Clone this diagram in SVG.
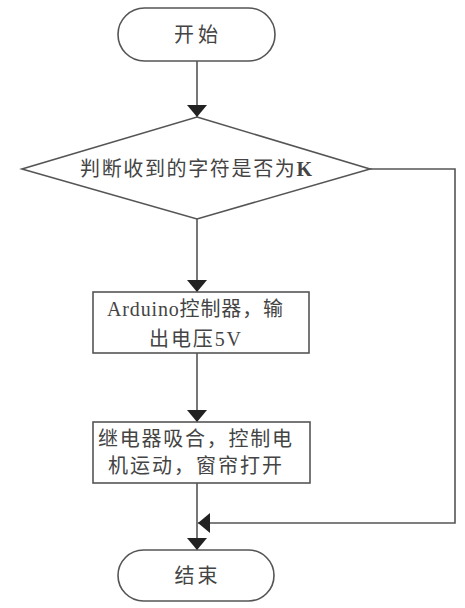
<svg xmlns="http://www.w3.org/2000/svg" width="465" height="608" viewBox="0 0 465 608">
<defs>
<style>
.s{fill:#fff;stroke:#555;stroke-width:1.6}
.t{font-family:"Liberation Serif","Noto Sans CJK SC",serif;font-size:20px;fill:#444;text-anchor:middle;dominant-baseline:central}
.c{fill:none;stroke:#555;stroke-width:1.6}
</style>
<marker id="b" viewBox="0 0 10 10" refX="10" refY="5" markerWidth="12" markerHeight="20" markerUnits="userSpaceOnUse" orient="auto" preserveAspectRatio="none">
<path d="M0,0 L10,5 L0,10 Z" fill="#222"/>
</marker>
</defs>
<rect width="465" height="608" fill="#fff"/>
<g id="connectors">
<path class="c" d="M197,61 V117" marker-end="url(#b)"/>
<path class="c" d="M197,219 V292" marker-end="url(#b)"/>
<path class="c" d="M197,353 V422" marker-end="url(#b)"/>
<path class="c" d="M197,483 V550" marker-end="url(#b)"/>
<path class="c" d="M370,169 H455 V523 H198" marker-end="url(#b)"/>
</g>
<g id="start">
<rect class="s" x="118" y="8" width="157" height="53" rx="26.5"/>
<text class="t" x="196" y="35" textLength="44" lengthAdjust="spacing">开始</text>
</g>
<g id="decision">
<polygon class="s" points="197,117 370,169 197,219 22,169"/>
<text class="t" x="196" y="169" textLength="232" lengthAdjust="spacing">判断收到的字符是否为<tspan font-weight="bold">K</tspan></text>
</g>
<g id="arduino">
<rect class="s" x="93" y="292" width="216" height="61"/>
<text class="t" x="195" y="309" textLength="176" lengthAdjust="spacing">Arduino控制器，输</text>
<text class="t" x="195" y="339" textLength="92" lengthAdjust="spacing">出电压5V</text>
</g>
<g id="relay">
<rect class="s" x="93" y="422" width="217" height="61"/>
<text class="t" x="195" y="439" textLength="194" lengthAdjust="spacing">继电器吸合，控制电</text>
<text class="t" x="195" y="466" textLength="174" lengthAdjust="spacing">机运动，窗帘打开</text>
</g>
<g id="end">
<rect class="s" x="118" y="550" width="156" height="51" rx="25.5"/>
<text class="t" x="196" y="576" textLength="43" lengthAdjust="spacing">结束</text>
</g>
</svg>
